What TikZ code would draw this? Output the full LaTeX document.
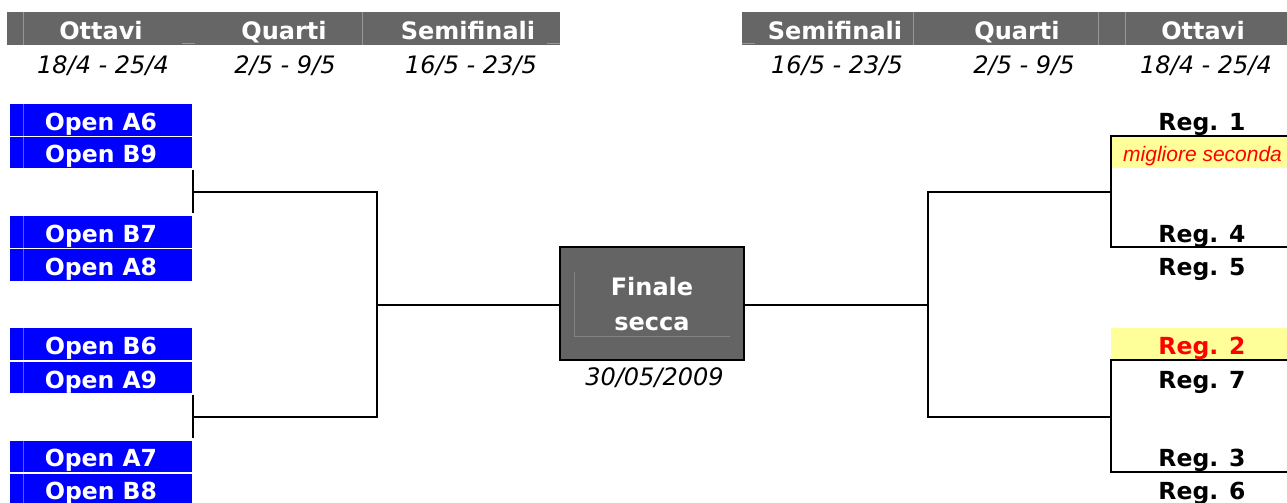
\documentclass[tikz,border=0pt]{standalone}
\usepackage{fontspec}
\setmainfont{DejaVu Sans}
\newfontfamily\arialfont{Liberation Sans}
\definecolor{hdrgray}{RGB}{102,102,102}
\definecolor{hdrsep}{RGB}{150,150,150}
\definecolor{fingray}{RGB}{100,100,100}
\definecolor{finsep}{RGB}{130,130,130}
\definecolor{teamblue}{RGB}{0,0,255}
\definecolor{teamsep}{RGB}{90,90,255}
\definecolor{hiyellow}{RGB}{255,255,153}
\definecolor{hired}{RGB}{255,0,0}
\begin{document}
\begin{tikzpicture}[x=1pt,y=-1pt,
  hdr/.style={text=white,font=\fontsize{24}{28}\selectfont\bfseries,anchor=base,inner sep=0pt},
  datetxt/.style={text=black,font=\fontsize{24}{28}\selectfont\itshape,anchor=base,inner sep=0pt},
  team/.style={text=white,font=\fontsize{23.5}{28}\selectfont\bfseries,anchor=base,inner sep=0pt},
  regtxt/.style={text=black,font=\fontsize{23.5}{28}\selectfont\bfseries,anchor=base,inner sep=0pt},
  note/.style={text=hired,font=\arialfont\fontsize{21}{24}\selectfont\itshape,anchor=base west,inner sep=0pt},
  bracket/.style={line width=2.6pt,draw=black},
  sepline/.style={line width=0.8pt,draw=hdrsep}]
\useasboundingbox (0,0) rectangle (1287,503);
\fill[white] (0,0) rectangle (1287,503);

% header bars
\fill[hdrgray] (7,12) rectangle (560,45);
\draw[sepline] (23,12) -- (23,45);
\draw[sepline] (362,12) -- (362,45);
\draw[sepline] (182,43) -- (195,43);
\draw[sepline] (547,43) -- (560,43);
\fill[hdrgray] (742,12) rectangle (1287,45);
\draw[sepline] (913,12) -- (913,45);
\draw[sepline] (1098,12) -- (1098,45);
\draw[sepline] (1125,12) -- (1125,45);
\draw[sepline] (742,43) -- (755,43);

\node[hdr] (h1) at (101,40) {Ottavi};
\node[hdr] (h2) at (284,40) {Quarti};
\node[hdr] (h3) at (468,40) {Semifinali};
\node[hdr] (h4) at (835,40) {Semifinali};
\node[hdr] (h5) at (1017,40) {Quarti};
\node[hdr] (h6) at (1203,40) {Ottavi};

\node[datetxt] (d1) at (103,74) {18/4 - 25/4};
\node[datetxt] (d2) at (285,74) {2/5 - 9/5};
\node[datetxt] (d3) at (471,74) {16/5 - 23/5};
\node[datetxt] (d4) at (837,74) {16/5 - 23/5};
\node[datetxt] (d5) at (1024,74) {2/5 - 9/5};
\node[datetxt] (d6) at (1206,74) {18/4 - 25/4};

% left team boxes
\foreach \t/\b in {104/135.5,137/168,216/247.5,249/281,328/360,362/393,441/472,474/505}{
  \fill[teamblue] (10,\t) rectangle (192,\b);
  \draw[teamsep,line width=0.8pt] (23,\t) -- (23,\b);
}
\node[team] (tA6) at (101,130) {Open A6};
\node[team] (tB9) at (101,162.5) {Open B9};
\node[team] (tB7) at (101,242) {Open B7};
\node[team] (tA8) at (101,275.5) {Open A8};
\node[team] (tB6) at (101,354.5) {Open B6};
\node[team] (tA9) at (101,388) {Open A9};
\node[team] (tA7) at (101,466.5) {Open A7};
\node[team] (tB8) at (101,499.5) {Open B8};

% right highlighted cells
\fill[hiyellow] (1111,136) rectangle (1287,168);
\fill[hiyellow] (1111,328) rectangle (1287,360);

\node[regtxt] (r1) at (1202,130) {Reg. 1};
\node[note] (ms) at (1123,161) {migliore seconda};
\node[regtxt] (r4) at (1202,242) {Reg. 4};
\node[regtxt] (r5) at (1202,275.5) {Reg. 5};
\node[regtxt,text=hired] (r2) at (1202,354.5) {Reg. 2};
\node[regtxt] (r7) at (1202,388) {Reg. 7};
\node[regtxt] (r3) at (1202,466.5) {Reg. 3};
\node[regtxt] (r6) at (1202,499.5) {Reg. 6};

% final
\node[draw=black,fill=fingray,line width=2pt,minimum width=184pt,minimum height=113pt,inner sep=0pt] (fin) at (652,303.5) {};
\draw[finsep,line width=0.8pt] (574,272) -- (574,336) -- (730,336);
\node[hdr] (fin1) at (652,295) {Finale};
\node[hdr] (fin2) at (652,330) {secca};
\node[datetxt] (fdate) at (654.5,385) {30/05/2009};

% left bracket coordinates
\coordinate (la1) at (193,170);
\coordinate (la2) at (193,213);
\coordinate (lam) at (193,192);
\coordinate (lb1) at (193,395);
\coordinate (lb2) at (193,438);
\coordinate (lbm) at (193,417);
\coordinate (lq1) at (377,192);
\coordinate (lq2) at (377,417);
\coordinate (ls) at (377,305);

\draw[bracket] (la1) -- (la2);
\draw[bracket] (lb1) -- (lb2);
\draw[bracket] (lam) -- (lq1) -- (lq2) -- (lbm);
\draw[bracket] (ls) -- (ls -| fin.west);

% right bracket coordinates
\coordinate (ra0) at (1287,136);
\coordinate (ra1) at (1111,136);
\coordinate (ra2) at (1111,247);
\coordinate (ra3) at (1287,247);
\coordinate (ram) at (1111,192);
\coordinate (rb0) at (1287,360);
\coordinate (rb1) at (1111,360);
\coordinate (rb2) at (1111,472);
\coordinate (rb3) at (1287,472);
\coordinate (rbm) at (1111,417);
\coordinate (rq1) at (928,192);
\coordinate (rq2) at (928,417);
\coordinate (rs) at (928,305);

\draw[bracket] (ra0) -- (ra1) -- (ra2) -- (ra3);
\draw[bracket] (rb0) -- (rb1) -- (rb2) -- (rb3);
\draw[bracket] (ram) -- (rq1) -- (rq2) -- (rbm);
\draw[bracket] (rs) -- (rs -| fin.east);
\end{tikzpicture}
\end{document}
